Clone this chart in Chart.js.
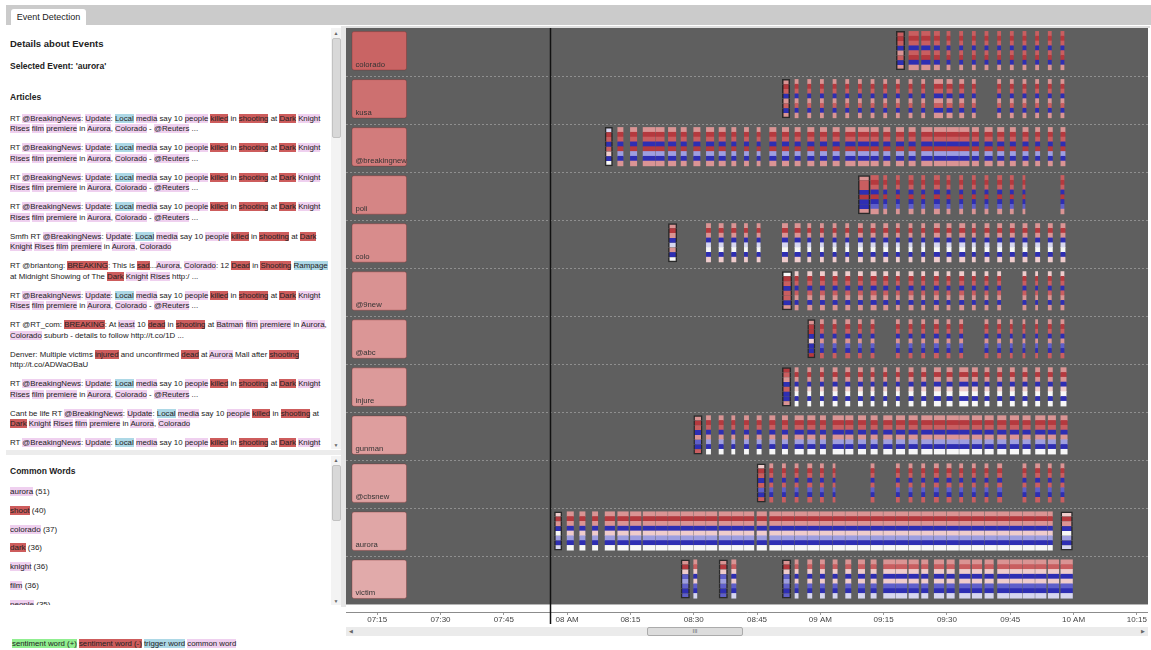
<!DOCTYPE html>
<html>
<head>
<meta charset="utf-8">
<script src="https://cdn.jsdelivr.net/npm/chart.js@4.4.1/dist/chart.umd.min.js"></script>
<style>
body{margin:0;width:1151px;height:650px;overflow:hidden;background:#fff;position:relative;font-family:"Liberation Sans",Arial,sans-serif;color:#222}
.abs{position:absolute}
#tabbar{left:6px;top:5px;width:1145px;height:20px;background:#cbcbcb}
#tab{left:5px;top:4px;width:75px;height:16px;background:#fff;border-radius:3px 3px 0 0;font-size:9px;line-height:17px;text-align:center}
#panel1{left:10px;top:28px;width:321px;height:421px;overflow:hidden}
#panel2{left:10px;top:456px;width:321px;height:149px;overflow:hidden}
.h1{font-weight:bold;font-size:9.5px;line-height:12px}
.h2{font-weight:bold;font-size:8.5px;line-height:12px}
.art{font-size:7.85px;line-height:10.7px;white-space:nowrap;margin-bottom:8.1px}
.word{font-size:8px;line-height:18.7px;white-space:nowrap}
.c{background:#efd0ef}.n{background:#cd5c5c}.t{background:#add8e6}.p{background:#90ee90}
.track{background:#f3f3f3;width:10px}
.thumb{background:#d8d8d8;border:1px solid #c2c2c2;border-radius:2px;width:7px}
.arrow{font-size:5px;color:#666;width:10px;text-align:center}
#legend{left:12px;top:639px;font-size:7.8px;line-height:10px;white-space:nowrap}
#vsplit{left:341px;top:26px;width:5px;height:581px;background:#e6e6e6}
#hsplit{left:6px;top:450px;width:335px;height:5px;background:#ececec}
#hscroll{left:346px;top:627px;width:802px;height:9px;background:#ebebeb}
#hthumb{left:301px;top:0;width:94px;height:7px;background:#dcdcdc;border:1px solid #ababab;border-radius:2px;font-size:6px;line-height:7px;text-align:center;color:#666}
#wrap{left:346px;top:28px;width:802px;height:598px}
#topline{left:346px;top:26px;width:804px;height:2px;background:#dedede}
</style>
</head>
<body>
<div id="tabbar" class="abs"><div id="tab" class="abs">Event Detection</div></div>

<div id="panel1" class="abs">
  <div class="abs h1" style="top:10px">Details about Events</div>
  <div class="abs h2" style="top:32px">Selected Event: 'aurora'</div>
  <div class="abs h2" style="top:63px">Articles</div>
  <div id="articles" class="abs" style="top:85.6px"></div>
</div>
<div class="abs track" style="left:331px;top:28px;height:421px"></div>
<div class="abs arrow" style="left:331px;top:30px">&#9650;</div>
<div class="abs thumb" style="left:332px;top:38px;height:98px"></div>
<div class="abs arrow" style="left:331px;top:442px">&#9660;</div>

<div id="hsplit" class="abs"></div>

<div id="panel2" class="abs">
  <div class="abs h2" style="top:8.7px">Common Words</div>
  <div id="words" class="abs" style="top:27.3px"></div>
</div>
<div class="abs track" style="left:331px;top:456px;height:149px"></div>
<div class="abs arrow" style="left:331px;top:457px">&#9650;</div>
<div class="abs thumb" style="left:332px;top:465px;height:54px"></div>
<div class="abs arrow" style="left:331px;top:598px">&#9660;</div>

<div id="legend" class="abs"></div>

<div id="vsplit" class="abs"></div>
<div id="topline" class="abs"></div>
<div id="wrap" class="abs"><canvas id="chart" width="802" height="598"></canvas></div>
<div id="hscroll" class="abs">
  <div class="abs arrow" style="left:0;top:1px">&#9664;</div>
  <div id="hthumb" class="abs">III</div>
  <div class="abs arrow" style="left:792px;top:1px">&#9654;</div>
</div>

<script>
// ---- data ----
var rowNames = ['colorado', 'kusa', '@breakingnew', 'poli', 'colo', '@9new', '@abc', 'injure', 'gunman', '@cbsnew', 'aurora', 'victim'];
var binMinutes = 3;
// time of the first 3-minute bin of every row
var firstBin = ['09:18', '08:51', '08:09', '09:09', '08:24', '08:51', '08:57', '08:51', '08:30', '08:45', '07:57', '08:27'];
// tweets per bin, from firstBin on (0 = none)
var volColorado = [8, 9, 8, 5, 3, 3, 3, 3, 3, 3, 3, 3, 3, 3];
var volKusa = [7, 3, 3, 3, 3, 3, 3, 3, 3, 3, 3, 3, 8, 5, 4, 3, 0, 3, 3, 3, 3, 3, 3];
var volBreaking = [7, 5, 6, 11, 8, 7, 5, 6, 7, 6, 4, 4, 3, 6, 6, 5, 6, 6, 6, 9, 10, 7, 6, 7, 6, 10, 11, 11, 9, 6, 7, 6, 5, 5, 4, 4, 4];
var volPoli = [11, 7, 3, 3, 4, 3, 5, 3, 3, 3, 3, 4, 3, 2, 0, 0, 3];
var volColo = [8, 0, 0, 4, 4, 4, 3, 3, 0, 5, 5, 3, 3, 3, 3, 4, 4, 4, 3, 3, 3, 5, 4, 5, 3, 4, 4, 4, 4, 4, 4, 4];
var vol9new = [9, 3, 4, 4, 4, 4, 4, 5, 4, 3, 4, 3, 4, 3, 4, 3, 3, 3, 0, 3, 2, 3, 3];
var volAbc = [7, 3, 3, 4, 3, 3, 0, 3, 3, 3, 4, 3, 3, 0, 3, 3, 2, 2, 2, 3, 3];
var volInjure = [8, 3, 3, 3, 4, 4, 4, 3, 3, 3, 4, 4, 6, 5, 8, 5, 4, 4, 4, 4, 4, 4, 5];
var volGunman = [8, 4, 4, 3, 4, 4, 5, 5, 8, 7, 5, 10, 7, 7, 6, 8, 8, 8, 10, 10, 11, 9, 9, 8, 8, 8, 7, 9, 7, 6];
var volCbsnew = [8, 3, 3, 3, 4, 3, 2, 0, 0, 3, 0, 3, 3, 3, 4, 4, 3, 3, 3, 4, 0, 3, 4, 3, 3];
var volAurora = [7, 6, 5, 5, 9, 10, 10, 11, 11, 11, 11, 11, 10, 11, 11, 9, 9, 11, 11, 11, 11, 11, 11, 11, 11, 11, 11, 11, 11, 11, 11, 11, 11, 11, 11, 11, 11, 11, 11, 4, 11];
var volVictim = [8, 3, 0, 8, 4, 0, 0, 0, 8, 3, 4, 4, 4, 5, 6, 5, 11, 10, 9, 6, 9, 7, 10, 9, 8, 11, 11, 11, 10, 10, 11];
var volumes = [volColorado, volKusa, volBreaking, volPoli, volColo, vol9new, volAbc, volInjure, volGunman, volCbsnew, volAurora, volVictim];
// bins drawn with a frame (detected bursts)
var marked = [['09:18'], ['08:51'], ['08:09'], ['09:09'], ['08:24'], ['08:51'], ['08:57'], ['08:51'], ['08:30'], ['08:45'], ['07:57', '09:57'], ['08:27', '08:36', '08:51']];
// 8 stripe values per bin: 4 = strong red ... -4 = strong blue
var stripes = [
  [3, 4, 3, -4, 3, 4, -4, 2],
  [2, 4, 3, -4, 2, 3, -4, 2],
  [2, 4, 3, -4, 4, -2, -4, 2],
  [3, 4, 3, -4, 4, -4, -3, 2],
  [2, 4, 2, -4, -1, 0, -4, 1],
  [1, 4, 3, -4, 3, 2, -4, 2],
  [2, 4, 3, -4, 2, -3, -4, 3],
  [2, 4, 2, -4, 1, 0, -4, 0],
  [2, 4, 3, -4, 2, -2, -4, 0],
  [2, 4, 3, -4, 3, -3, -4, 3],
  [2, 4, 2, -4, 1, -2, -4, 0],
  [2, 3, 1, -4, 1, -3, -4, -1]
];
var markedStripes = [
  [3, 4, 3, -4, 2, 3, -4, 2],
  [2, 4, 3, -4, 2, 3, -4, 2],
  [-1, 4, 3, -4, 3, 1, -4, 0],
  [2, 3, 3, -4, 4, -4, -4, 2],
  [2, 4, 2, -4, -1, 2, -4, 0],
  [0, 4, 3, -4, 3, 3, -4, 2],
  [2, 4, 4, -4, 1, -4, -4, 4],
  [4, 3, 2, -4, 3, -4, -4, 2],
  [2, 4, 3, -4, 2, -3, -4, 3],
  [1, 4, 3, -4, 3, -3, -4, 3],
  [1, 4, 2, -4, 0, -2, -4, -1],
  [2, 4, 1, -3, -2, -3, -4, -3]
];
var selectedTime = '07:56';
var tickTimes = ['07:15', '07:30', '07:45', '08:00', '08:15', '08:30', '08:45', '09:00', '09:15', '09:30', '09:45', '10:00', '10:15'];
var tickLabels = ['07:15', '07:30', '07:45', '08 AM', '08:15', '08:30', '08:45', '09 AM', '09:15', '09:30', '09:45', '10 AM', '10:15'];

// ---- styles ----
var labelColors = ['#c96464', '#cd7070', '#d27c7c', '#d58585', '#d88c8c', '#d99292', '#db9696', '#dc9a9a', '#de9e9e', '#dfa2a2', '#e0a6a6', '#e1aaaa'];
var palette = {'4': '#b5393e', '3': '#c95e60', '2': '#da9494', '1': '#efcccc', '0': '#f7f7f7',
  '-1': '#d6d6f0', '-2': '#9e9ee0', '-3': '#5f5fca', '-4': '#2e2eb3'};
var minutesPerTweet = 0.25;
var FONT = '"Liberation Sans", Arial, sans-serif';

function toMin(s) { var p = s.split(':'); return +p[0] * 60 + +p[1]; }
function fmt(m) { var h = Math.floor(m / 60), mm = m % 60; return (h < 10 ? '0' : '') + h + ':' + (mm < 10 ? '0' : '') + mm; }

// ---- text panels ----
var articles = [
  'RT {c@BreakingNews}: {cUpdate}: {tLocal} {cmedia} say 10 {cpeople} {nkilled} in {nshooting} at {nDark} {cKnight}|{cRises} {cfilm} {cpremiere} in {cAurora}, {cColorado} - {c@Reuters} ...',
  'RT {c@BreakingNews}: {cUpdate}: {tLocal} {cmedia} say 10 {cpeople} {nkilled} in {nshooting} at {nDark} {cKnight}|{cRises} {cfilm} {cpremiere} in {cAurora}, {cColorado} - {c@Reuters} ...',
  'RT {c@BreakingNews}: {cUpdate}: {tLocal} {cmedia} say 10 {cpeople} {nkilled} in {nshooting} at {nDark} {cKnight}|{cRises} {cfilm} {cpremiere} in {cAurora}, {cColorado} - {c@Reuters} ...',
  'RT {c@BreakingNews}: {cUpdate}: {tLocal} {cmedia} say 10 {cpeople} {nkilled} in {nshooting} at {nDark} {cKnight}|{cRises} {cfilm} {cpremiere} in {cAurora}, {cColorado} - {c@Reuters} ...',
  'Smfh RT {c@BreakingNews}: {cUpdate}: {tLocal} {cmedia} say 10 {cpeople} {nkilled} in {nshooting} at {nDark}|{cKnight} {cRises} {cfilm} {cpremiere} in {cAurora}, {cColorado}',
  'RT @briantong: {nBREAKING}: This is {nsad}...{cAurora}, {cColorado}: 12 {nDead} in {nShooting} {tRampage}|at Midnight Showing of The {nDark} {cKnight} {cRises} http:/ ...',
  'RT {c@BreakingNews}: {cUpdate}: {tLocal} {cmedia} say 10 {cpeople} {nkilled} in {nshooting} at {nDark} {cKnight}|{cRises} {cfilm} {cpremiere} in {cAurora}, {cColorado} - {c@Reuters} ...',
  'RT @RT_com: {nBREAKING}: At {cleast} 10 {ndead} in {nshooting} at {cBatman} {cfilm} {cpremiere} in {cAurora},|{cColorado} suburb - details to follow http://t.co/1D ...',
  'Denver: Multiple victims {ninjured} and unconfirmed {ndead} at {cAurora} Mall after {nshooting}|http://t.co/ADWaOBaU',
  'RT {c@BreakingNews}: {cUpdate}: {tLocal} {cmedia} say 10 {cpeople} {nkilled} in {nshooting} at {nDark} {cKnight}|{cRises} {cfilm} {cpremiere} in {cAurora}, {cColorado} - {c@Reuters} ...',
  'Cant be life RT {c@BreakingNews}: {cUpdate}: {tLocal} {cmedia} say 10 {cpeople} {nkilled} in {nshooting} at|{nDark} {cKnight} {cRises} {cfilm} {cpremiere} in {cAurora}, {cColorado}',
  'RT {c@BreakingNews}: {cUpdate}: {tLocal} {cmedia} say 10 {cpeople} {nkilled} in {nshooting} at {nDark} {cKnight}|{cRises} {cfilm} {cpremiere} in {cAurora}, {cColorado} - {c@Reuters} ...'
];
var commonWords = ['{caurora} (51)', '{nshoot} (40)', '{ccolorado} (37)', '{ndark} (36)', '{cknight} (36)', '{cfilm} (36)', '{cpeople} (35)'];
var legendItems = ['{psentiment word (+)}', '{nsentiment word (-)}', '{ttrigger word}', '{ccommon word}'];

function markup(s) {
  return s.replace(/\{([cntp])([^}]*)\}/g, '<span class="$1">$2</span>').replace(/\|/g, '<br>');
}
document.getElementById('articles').innerHTML = articles.map(function (a) { return '<div class="art">' + markup(a) + '</div>'; }).join('');
document.getElementById('words').innerHTML = commonWords.map(function (a) { return '<div class="word">' + markup(a) + '</div>'; }).join('');
document.getElementById('legend').innerHTML = legendItems.map(markup).join(' ');

// ---- chart ----
var datasets = rowNames.map(function (name, r) {
  var data = [], bg = [], bw = [];
  var t0 = toMin(firstBin[r]);
  volumes[r].forEach(function (v, b) {
    if (!v) return;
    var t = t0 + b * binMinutes;
    var isMarked = marked[r].indexOf(fmt(t)) >= 0;
    var pat = isMarked ? markedStripes[r] : stripes[r];
    for (var j = 0; j < 8; j++) {
      data.push({x: [t, t + v * minutesPerTweet], y: (r * 100 + 12 + j * 10) / 100});
      bg.push(palette[String(pat[j])]);
      bw.push(isMarked ? {left: 1.5, right: 1.5, top: j === 0 ? 1.5 : 0, bottom: j === 7 ? 1.5 : 0} : 0);
    }
  });
  return {label: name, data: data, backgroundColor: bg, borderWidth: bw, borderColor: '#2a2a2a',
    borderSkipped: false, grouped: false, barPercentage: 1, categoryPercentage: 1};
});

var decor = {
  id: 'decor',
  beforeDatasetsDraw: function (chart) {
    var ctx = chart.ctx, x = chart.scales.x, y = chart.scales.y, a = chart.chartArea;
    ctx.save();
    ctx.fillStyle = '#5f5f5f';
    ctx.fillRect(a.left, y.getPixelForValue(0), a.right - a.left, y.getPixelForValue(12) - y.getPixelForValue(0));
    // dashed row separators
    ctx.strokeStyle = '#8f8f8f';
    ctx.setLineDash([2, 2]);
    ctx.lineWidth = 1;
    for (var i = 1; i < rowNames.length; i++) {
      var py = Math.round(y.getPixelForValue(i)) + 0.5;
      ctx.beginPath(); ctx.moveTo(a.left, py); ctx.lineTo(a.right, py); ctx.stroke();
    }
    ctx.setLineDash([]);
    // label boxes
    rowNames.forEach(function (name, r) {
      var top = y.getPixelForValue(r + 0.075), bot = y.getPixelForValue(r + 0.875);
      var l = a.left + 6, w = 54.5;
      ctx.beginPath();
      ctx.roundRect(l, top, w, bot - top, 2);
      ctx.fillStyle = labelColors[r];
      ctx.fill();
      ctx.strokeStyle = 'rgba(120,40,40,0.35)';
      ctx.stroke();
      ctx.save();
      ctx.beginPath(); ctx.rect(l, top, w, bot - top); ctx.clip();
      ctx.fillStyle = '#333';
      ctx.font = '7.7px ' + FONT;
      ctx.textBaseline = 'alphabetic';
      ctx.fillText(name, l + 3.5, bot - 3);
      ctx.restore();
    });
    ctx.restore();
  },
  afterDraw: function (chart) {
    var ctx = chart.ctx, x = chart.scales.x, a = chart.chartArea;
    var px = Math.round(x.getPixelForValue(toMin(selectedTime))) + 0.5;
    ctx.save();
    ctx.strokeStyle = '#111';
    ctx.lineWidth = 1.5;
    ctx.beginPath(); ctx.moveTo(px, a.top); ctx.lineTo(px, a.bottom + 12); ctx.stroke();
    ctx.restore();
  }
};

new Chart(document.getElementById('chart').getContext('2d'), {
  type: 'bar',
  data: {datasets: datasets},
  options: {
    indexAxis: 'y',
    responsive: false,
    animation: false,
    events: [],
    layout: {padding: 0},
    plugins: {legend: {display: false}, tooltip: {enabled: false}},
    scales: {
      x: {
        type: 'linear', position: 'bottom', min: 427.6, max: 617.65,
        afterBuildTicks: function (s) { s.ticks = tickTimes.map(function (t) { return {value: toMin(t)}; }); },
        afterFit: function (s) { s.height = 14; },
        ticks: {autoSkip: false, maxRotation: 0, padding: 0, color: '#444', font: {size: 8, family: FONT},
          callback: function (v, i) { return tickLabels[i]; }},
        grid: {drawOnChartArea: false, tickLength: 3, color: '#999'},
        border: {color: '#8c8c8c'}
      },
      y: {
        type: 'linear', reverse: true, min: 0, max: 12.157,
        afterBuildTicks: function (s) { s.ticks = []; },
        afterFit: function (s) { s.width = 0; },
        ticks: {display: false},
        grid: {display: false},
        border: {display: false}
      }
    }
  },
  plugins: [decor]
});
</script>
</body>
</html>
